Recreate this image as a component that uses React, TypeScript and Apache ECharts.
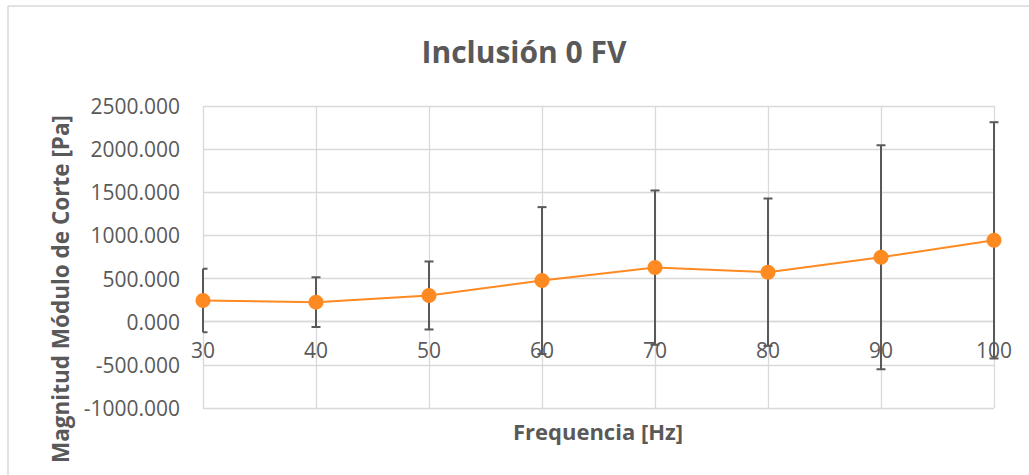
import React, { useEffect, useRef } from "react";
import * as echarts from "echarts";

const titleText = "Inclusión 0 FV";
const xAxisTitle = "Frequencia [Hz]";
const yAxisTitle = "Magnitud Módulo de Corte [Pa]";
const frequencies = [30, 40, 50, 60, 70, 80, 90, 100];
const means = [246, 227, 304, 477, 627, 574, 747, 943];
const errors = [368, 288, 394, 851, 894, 854, 1298, 1369];
const yTicks = { min: -1000, max: 2500, step: 500 };
const xTicks = { min: 30, max: 100, step: 10 };

const FONT = "'Open Sans', 'Noto Sans', sans-serif";
const TEXT = "#595959";
const GRID = "#d9d9d9";

const GRID_TOP = 106;
const GRID_BOTTOM = 67;
const CHART_H = 475;

export default function App() {
  const ref = useRef<HTMLDivElement>(null);
  useEffect(() => {
    if (!ref.current) return;
    const chart = echarts.init(ref.current, null, { renderer: "svg" });
    const lineData = frequencies.map((f, i) => [f, means[i]]);
    const errData = frequencies.map((f, i) => [f, means[i] - errors[i], means[i] + errors[i]]);
    // the x axis crosses the value axis at zero, like the original
    const plotH = CHART_H - GRID_TOP - GRID_BOTTOM;
    const zeroOffset = -plotH * (0 - yTicks.min) / (yTicks.max - yTicks.min);
    chart.setOption({
      animation: false,
      backgroundColor: "#ffffff",
      grid: { left: 203, right: 35, top: GRID_TOP, bottom: GRID_BOTTOM },
      xAxis: {
        type: "value",
        min: xTicks.min,
        max: xTicks.max,
        interval: xTicks.step,
        offset: zeroOffset,
        axisLine: { show: true, onZero: false, lineStyle: { color: GRID, width: 1.3 } },
        axisTick: { show: false },
        axisLabel: { color: TEXT, fontSize: 21, fontFamily: FONT, margin: 18 },
        splitLine: { show: true, lineStyle: { color: GRID, width: 1.3 } },
      },
      yAxis: {
        type: "value",
        min: yTicks.min,
        max: yTicks.max,
        interval: yTicks.step,
        axisLine: { show: false },
        axisTick: { show: false },
        axisLabel: {
          color: TEXT,
          fontSize: 21,
          fontFamily: FONT,
          margin: 23,
          formatter: (v: number) => v.toFixed(3),
        },
        splitLine: { show: true, lineStyle: { color: GRID, width: 1.3 } },
      },
      graphic: [
        { type: "line", shape: { x1: 8, y1: 6, x2: 1029, y2: 6 }, style: { stroke: GRID, lineWidth: 1.5 } },
        { type: "line", shape: { x1: 8, y1: 6, x2: 8, y2: 475 }, style: { stroke: GRID, lineWidth: 1.5 } },
        {
          type: "text",
          x: 524,
          y: 51,
          style: {
            text: titleText,
            fill: TEXT,
            font: `bold 30px ${FONT}`,
            textAlign: "center",
            textVerticalAlign: "middle",
          },
        },
        {
          type: "text",
          x: 598,
          y: 431,
          style: {
            text: xAxisTitle,
            fill: TEXT,
            font: `bold 22px ${FONT}`,
            textAlign: "center",
            textVerticalAlign: "middle",
          },
        },
        {
          type: "text",
          x: 60,
          y: 289,
          rotation: Math.PI / 2,
          style: {
            text: yAxisTitle,
            fill: TEXT,
            font: `bold 22.5px ${FONT}`,
            textAlign: "center",
            textVerticalAlign: "middle",
          },
        },
      ],
      series: [
        {
          type: "custom",
          z: 2,
          data: errData,
          renderItem: (params: any, api: any) => {
            const x = api.value(0);
            const lo = api.coord([x, api.value(1)]);
            const hi = api.coord([x, api.value(2)]);
            const cx = lo[0];
            const half = 4.5;
            const left = params.dataIndex === 0 ? cx : cx - half;
            const style = { stroke: "#595959", lineWidth: 2 };
            return {
              type: "group",
              children: [
                { type: "line", shape: { x1: cx, y1: lo[1], x2: cx, y2: hi[1] }, style },
                { type: "line", shape: { x1: left, y1: lo[1], x2: cx + half, y2: lo[1] }, style },
                { type: "line", shape: { x1: left, y1: hi[1], x2: cx + half, y2: hi[1] }, style },
              ],
            };
          },
        },
        {
          type: "line",
          z: 3,
          data: lineData,
          symbol: "circle",
          symbolSize: 15,
          itemStyle: { color: "#ff8a22" },
          lineStyle: { color: "#ff8a22", width: 2 },
        },
      ],
    });
    return () => chart.dispose();
  }, []);
  return (
    <div
      ref={ref}
      style={{ position: "absolute", left: 0, top: 0, width: 1029, height: 475, background: "#fff" }}
    />
  );
}
